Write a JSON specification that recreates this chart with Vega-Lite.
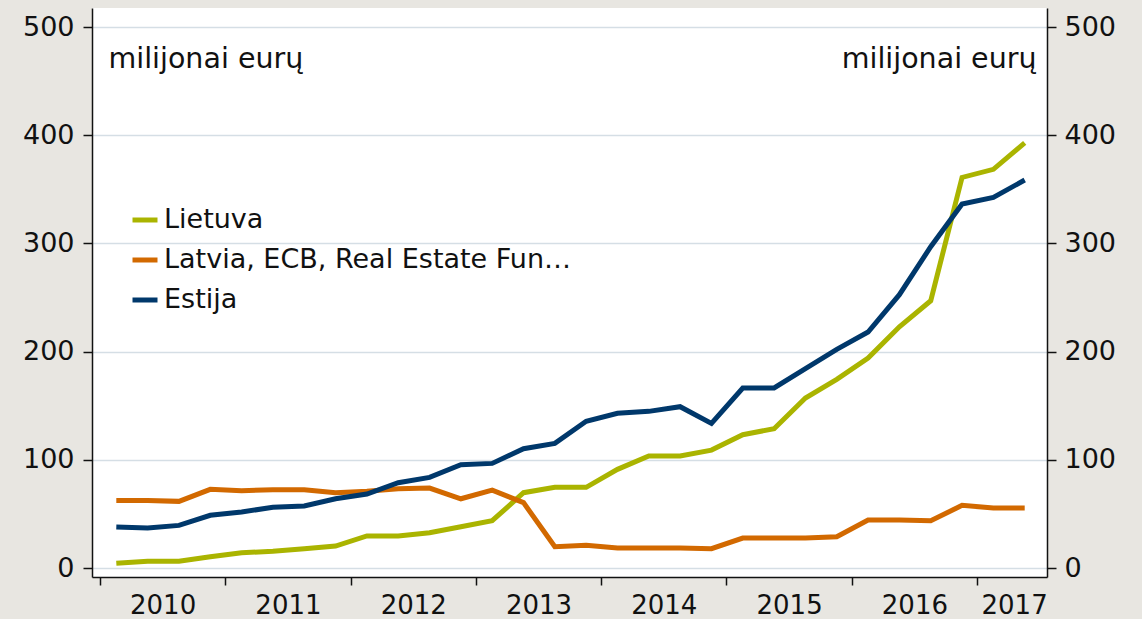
{
  "$schema": "https://vega.github.io/schema/vega-lite/v6.json",
  "width": 955,
  "height": 569,
  "autosize": "none",
  "padding": {"left": 92, "top": 8, "right": 95, "bottom": 42},
  "background": "#e8e6e1",
  "config": {
    "view": {"fill": "white", "stroke": null},
    "font": "DejaVu Sans",
    "axis": {
      "labelFont": "DejaVu Sans",
      "labelFontSize": 27,
      "labelColor": "#111111",
      "domainColor": "#111111",
      "domainWidth": 1.5,
      "tickColor": "#111111",
      "tickWidth": 1.5,
      "labelOverlap": false,
      "labelBound": false,
      "labelFlush": false,
      "titleFont": "DejaVu Sans",
      "titleFontWeight": "normal",
      "titleFontSize": 28.5,
      "titleColor": "#111111"
    },
    "legend": {
      "labelFont": "DejaVu Sans",
      "labelFontSize": 27,
      "labelColor": "#111111",
      "labelLimit": 800
    }
  },
  "data": {
    "values": [
      {"series": "Lietuva", "t": 2010.13, "v": 4.3},
      {"series": "Lietuva", "t": 2010.38, "v": 6.2},
      {"series": "Lietuva", "t": 2010.63, "v": 6.2},
      {"series": "Lietuva", "t": 2010.88, "v": 10.5},
      {"series": "Lietuva", "t": 2011.13, "v": 14.2},
      {"series": "Lietuva", "t": 2011.38, "v": 15.4},
      {"series": "Lietuva", "t": 2011.63, "v": 17.9},
      {"series": "Lietuva", "t": 2011.88, "v": 20.3},
      {"series": "Lietuva", "t": 2012.13, "v": 29.6},
      {"series": "Lietuva", "t": 2012.38, "v": 29.6},
      {"series": "Lietuva", "t": 2012.63, "v": 32.6},
      {"series": "Lietuva", "t": 2012.88, "v": 38.2},
      {"series": "Lietuva", "t": 2013.13, "v": 43.7},
      {"series": "Lietuva", "t": 2013.38, "v": 69.6},
      {"series": "Lietuva", "t": 2013.63, "v": 74.6},
      {"series": "Lietuva", "t": 2013.88, "v": 74.6},
      {"series": "Lietuva", "t": 2014.13, "v": 91.2},
      {"series": "Lietuva", "t": 2014.38, "v": 103.5},
      {"series": "Lietuva", "t": 2014.63, "v": 103.5},
      {"series": "Lietuva", "t": 2014.88, "v": 109},
      {"series": "Lietuva", "t": 2015.13, "v": 123.2},
      {"series": "Lietuva", "t": 2015.38, "v": 128.8},
      {"series": "Lietuva", "t": 2015.63, "v": 157.1},
      {"series": "Lietuva", "t": 2015.88, "v": 174.4},
      {"series": "Lietuva", "t": 2016.13, "v": 194.1},
      {"series": "Lietuva", "t": 2016.38, "v": 223},
      {"series": "Lietuva", "t": 2016.63, "v": 247},
      {"series": "Lietuva", "t": 2016.88, "v": 361},
      {"series": "Lietuva", "t": 2017.13, "v": 368.5},
      {"series": "Lietuva", "t": 2017.38, "v": 393},
      {"series": "Latvia, ECB, Real Estate Fun…", "t": 2010.13, "v": 62.5},
      {"series": "Latvia, ECB, Real Estate Fun…", "t": 2010.38, "v": 62.5},
      {"series": "Latvia, ECB, Real Estate Fun…", "t": 2010.63, "v": 61.6},
      {"series": "Latvia, ECB, Real Estate Fun…", "t": 2010.88, "v": 72.7},
      {"series": "Latvia, ECB, Real Estate Fun…", "t": 2011.13, "v": 71.5},
      {"series": "Latvia, ECB, Real Estate Fun…", "t": 2011.38, "v": 72.4},
      {"series": "Latvia, ECB, Real Estate Fun…", "t": 2011.63, "v": 72.4},
      {"series": "Latvia, ECB, Real Estate Fun…", "t": 2011.88, "v": 69.6},
      {"series": "Latvia, ECB, Real Estate Fun…", "t": 2012.13, "v": 71},
      {"series": "Latvia, ECB, Real Estate Fun…", "t": 2012.38, "v": 73.3},
      {"series": "Latvia, ECB, Real Estate Fun…", "t": 2012.63, "v": 73.9},
      {"series": "Latvia, ECB, Real Estate Fun…", "t": 2012.88, "v": 64},
      {"series": "Latvia, ECB, Real Estate Fun…", "t": 2013.13, "v": 72},
      {"series": "Latvia, ECB, Real Estate Fun…", "t": 2013.38, "v": 60.4},
      {"series": "Latvia, ECB, Real Estate Fun…", "t": 2013.63, "v": 19.7},
      {"series": "Latvia, ECB, Real Estate Fun…", "t": 2013.88, "v": 21},
      {"series": "Latvia, ECB, Real Estate Fun…", "t": 2014.13, "v": 18.5},
      {"series": "Latvia, ECB, Real Estate Fun…", "t": 2014.38, "v": 18.5},
      {"series": "Latvia, ECB, Real Estate Fun…", "t": 2014.63, "v": 18.5},
      {"series": "Latvia, ECB, Real Estate Fun…", "t": 2014.88, "v": 17.9},
      {"series": "Latvia, ECB, Real Estate Fun…", "t": 2015.13, "v": 27.7},
      {"series": "Latvia, ECB, Real Estate Fun…", "t": 2015.38, "v": 27.7},
      {"series": "Latvia, ECB, Real Estate Fun…", "t": 2015.63, "v": 27.7},
      {"series": "Latvia, ECB, Real Estate Fun…", "t": 2015.88, "v": 28.9},
      {"series": "Latvia, ECB, Real Estate Fun…", "t": 2016.13, "v": 44.4},
      {"series": "Latvia, ECB, Real Estate Fun…", "t": 2016.38, "v": 44.4},
      {"series": "Latvia, ECB, Real Estate Fun…", "t": 2016.63, "v": 43.7},
      {"series": "Latvia, ECB, Real Estate Fun…", "t": 2016.88, "v": 57.9},
      {"series": "Latvia, ECB, Real Estate Fun…", "t": 2017.13, "v": 55.5},
      {"series": "Latvia, ECB, Real Estate Fun…", "t": 2017.38, "v": 55.5},
      {"series": "Estija", "t": 2010.13, "v": 37.9},
      {"series": "Estija", "t": 2010.38, "v": 37},
      {"series": "Estija", "t": 2010.63, "v": 39.4},
      {"series": "Estija", "t": 2010.88, "v": 48.7},
      {"series": "Estija", "t": 2011.13, "v": 51.8},
      {"series": "Estija", "t": 2011.38, "v": 56.1},
      {"series": "Estija", "t": 2011.63, "v": 57.3},
      {"series": "Estija", "t": 2011.88, "v": 64},
      {"series": "Estija", "t": 2012.13, "v": 68.4},
      {"series": "Estija", "t": 2012.38, "v": 78.8},
      {"series": "Estija", "t": 2012.63, "v": 83.8},
      {"series": "Estija", "t": 2012.88, "v": 95.5},
      {"series": "Estija", "t": 2013.13, "v": 96.7},
      {"series": "Estija", "t": 2013.38, "v": 110.3},
      {"series": "Estija", "t": 2013.63, "v": 115.2},
      {"series": "Estija", "t": 2013.88, "v": 135.6},
      {"series": "Estija", "t": 2014.13, "v": 143},
      {"series": "Estija", "t": 2014.38, "v": 144.8},
      {"series": "Estija", "t": 2014.63, "v": 149.1},
      {"series": "Estija", "t": 2014.88, "v": 133.7},
      {"series": "Estija", "t": 2015.13, "v": 166.4},
      {"series": "Estija", "t": 2015.38, "v": 166.4},
      {"series": "Estija", "t": 2015.63, "v": 184.2},
      {"series": "Estija", "t": 2015.88, "v": 202.1},
      {"series": "Estija", "t": 2016.13, "v": 218.1},
      {"series": "Estija", "t": 2016.38, "v": 252.6},
      {"series": "Estija", "t": 2016.63, "v": 297},
      {"series": "Estija", "t": 2016.88, "v": 336.4},
      {"series": "Estija", "t": 2017.13, "v": 342.6},
      {"series": "Estija", "t": 2017.38, "v": 358.6}
    ]
  },
  "layer": [
    {
      "mark": {"type": "line", "strokeCap": "butt", "strokeJoin": "miter"},
      "encoding": {
        "x": {
          "field": "t",
          "type": "quantitative",
          "scale": {"domain": [2009.936, 2017.558], "nice": false, "zero": false},
          "axis": {
            "title": null,
            "values": [2010, 2011, 2012, 2013, 2014, 2015, 2016, 2017],
            "format": "d",
            "grid": false,
            "tickSize": 8,
            "labelPadding": 7,
            "labelFontSize": 26,
            "labelOffset": {"condition": {"test": "datum.value == 2017", "value": 37}, "value": 62.6}
          }
        },
        "y": {
          "field": "v",
          "type": "quantitative",
          "scale": {"domain": [-8.3, 517.6], "nice": false, "zero": false},
          "axis": {
            "orient": "left",
            "values": [0, 100, 200, 300, 400, 500],
            "grid": true,
            "gridColor": "#d5dee5",
            "gridWidth": 1.5,
            "tickSize": 9,
            "labelPadding": 9,
            "title": "milijonai eurų",
            "titleAngle": 0,
            "titleAlign": "left",
            "titleBaseline": "alphabetic",
            "titleX": 16,
            "titleY": 59
          }
        },
        "color": {
          "field": "series",
          "type": "nominal",
          "sort": ["Lietuva", "Latvia, ECB, Real Estate Fun…", "Estija"],
          "scale": {
            "domain": ["Lietuva", "Latvia, ECB, Real Estate Fun…", "Estija"],
            "range": ["#aab400", "#d26900", "#00386b"]
          },
          "legend": {
            "title": null,
            "orient": "none",
            "legendX": 38,
            "legendY": 197,
            "symbolType": "stroke",
            "symbolSize": 625,
            "rowPadding": 12,
            "labelOffset": 4
          }
        },
        "strokeWidth": {
          "field": "series",
          "type": "nominal",
          "sort": ["Lietuva", "Latvia, ECB, Real Estate Fun…", "Estija"],
          "scale": {
            "domain": ["Lietuva", "Latvia, ECB, Real Estate Fun…", "Estija"],
            "range": [5, 5, 6.5]
          },
          "legend": null
        },
        "detail": {"field": "series"},
        "order": {"field": "t"}
      }
    },
    {
      "mark": {"type": "point", "opacity": 0},
      "encoding": {
        "y": {
          "field": "v",
          "type": "quantitative",
          "axis": {
            "orient": "right",
            "values": [0, 100, 200, 300, 400, 500],
            "grid": false,
            "tickSize": 9,
            "labelPadding": 8,
            "title": "milijonai eurų",
            "titleAngle": 0,
            "titleAlign": "right",
            "titleBaseline": "alphabetic",
            "titleX": -11,
            "titleY": 59
          }
        }
      }
    }
  ],
  "resolve": {"axis": {"y": "independent"}}
}
